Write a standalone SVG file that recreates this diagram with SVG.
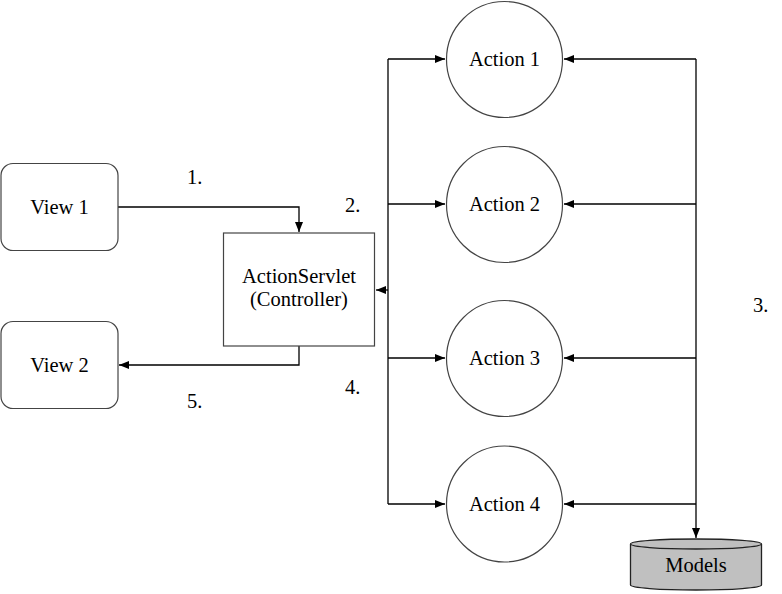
<svg xmlns="http://www.w3.org/2000/svg" width="782" height="594" viewBox="0 0 782 594">
<style>
text{font-family:'Liberation Serif',Tinos,'Times New Roman',Times,'Noto Serif','DejaVu Serif',serif;font-size:20.5px;fill:#000;text-anchor:middle}
.n{fill:#fff;stroke:#444;stroke-width:1.2}
.c{fill:none;stroke:#000;stroke-width:1.3}
.lbl{text-anchor:start}
</style>
<defs>
<marker id="ah" viewBox="0 0 10 8" refX="10" refY="4" markerWidth="10" markerHeight="8" markerUnits="userSpaceOnUse" orient="auto">
<path d="M0,0 L10,4 L0,8 Z" fill="#000"/>
</marker>
</defs>
<rect width="782" height="594" fill="#fff"/>
<g id="connectors">
<path class="c" d="M118,207 H299 V232" marker-end="url(#ah)"/>
<path class="c" d="M299,346 V365 H119" marker-end="url(#ah)"/>
<path class="c" d="M388,59 V504"/>
<path class="c" d="M388,290 H376" marker-end="url(#ah)"/>
<path class="c" d="M388,59 H445" marker-end="url(#ah)"/>
<path class="c" d="M388,204 H445" marker-end="url(#ah)"/>
<path class="c" d="M388,358 H445" marker-end="url(#ah)"/>
<path class="c" d="M388,504 H445" marker-end="url(#ah)"/>
<path class="c" d="M696,59 V538" marker-end="url(#ah)"/>
<path class="c" d="M696,59 H564" marker-end="url(#ah)"/>
<path class="c" d="M696,204 H564" marker-end="url(#ah)"/>
<path class="c" d="M696,358 H564" marker-end="url(#ah)"/>
<path class="c" d="M696,504 H564" marker-end="url(#ah)"/>
</g>
<g id="view1"><rect class="n" x="1" y="163.5" width="117" height="87" rx="12"/><text x="59.5" y="213.5">View 1</text></g>
<g id="view2"><rect class="n" x="1" y="321.5" width="117" height="87" rx="12"/><text x="59.5" y="371.5">View 2</text></g>
<g id="servlet"><rect class="n" x="223.5" y="233" width="151" height="113"/><text x="299" y="283">ActionServlet</text><text x="299" y="306">(Controller)</text></g>
<g id="action1"><circle class="n" cx="504.5" cy="59.5" r="58"/><text x="504.5" y="66">Action 1</text></g>
<g id="action2"><circle class="n" cx="504.5" cy="204.5" r="58"/><text x="504.5" y="211">Action 2</text></g>
<g id="action3"><circle class="n" cx="504.5" cy="358.5" r="58"/><text x="504.5" y="365">Action 3</text></g>
<g id="action4"><circle class="n" cx="504.5" cy="504" r="58"/><text x="504.5" y="510.5">Action 4</text></g>
<g id="models">
<path d="M630.5,544 V585 A65.5,5 0 0 0 761.5,585 V544" fill="#c0c0c0" stroke="#222" stroke-width="1.3"/>
<ellipse cx="696" cy="544" rx="65.5" ry="5" fill="#c0c0c0" stroke="#222" stroke-width="1.3"/>
<text x="696" y="572">Models</text>
</g>
<g id="labels">
<text class="lbl" x="187" y="183.5">1.</text>
<text class="lbl" x="345" y="211.5">2.</text>
<text class="lbl" x="753" y="311.5">3.</text>
<text class="lbl" x="345" y="393.5">4.</text>
<text class="lbl" x="187" y="408">5.</text>
</g>
</svg>
